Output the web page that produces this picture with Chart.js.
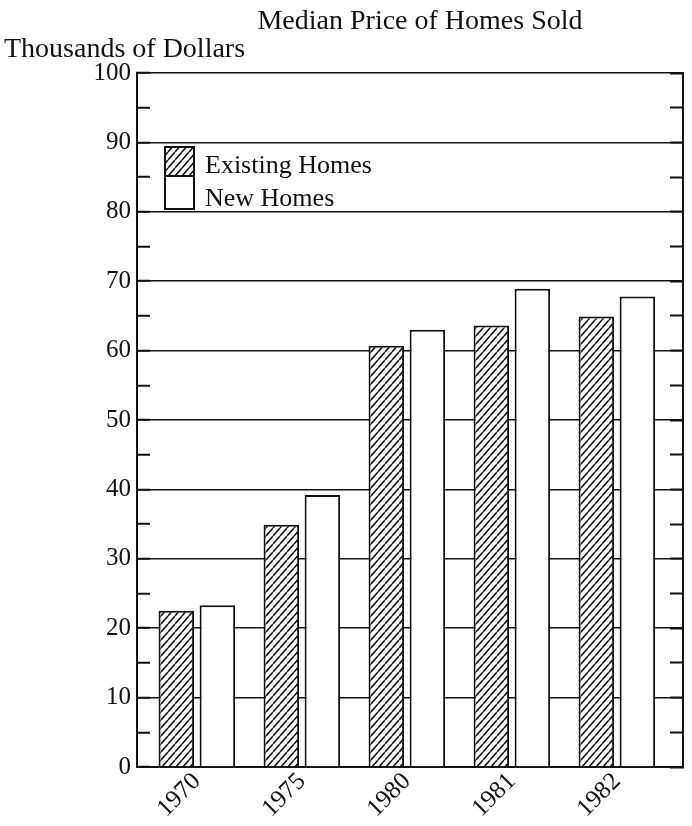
<!DOCTYPE html>
<html>
<head>
<meta charset="utf-8">
<script src="https://cdn.jsdelivr.net/npm/chart.js@4/dist/chart.umd.min.js"></script>
<style>
  html, body { margin: 0; padding: 0; background: #fff; }
  #chart { display: block; }
</style>
</head>
<body>
<canvas id="chart" width="692" height="826"></canvas>
<script>
const YEARS = ['1970', '1975', '1980', '1981', '1982'];
const EXISTING_HOMES = [22.5, 34.9, 60.7, 63.6, 64.9];
const NEW_HOMES = [23.3, 39.2, 63.0, 68.9, 67.8];
const Y_MIN = 0;
const Y_MAX = 100;
const Y_STEP = 5;
const Y_LABEL_EVERY = 10;
const TITLE = 'Median Price of Homes Sold';
const Y_CAPTION = 'Thousands of Dollars';

const INK = '#111';
const SERIF = '"Liberation Serif", "DejaVu Serif", serif';
// space before the first and after the last year, in category widths
const X_LEAD = 0.57;
const X_TRAIL = 0.63;

const canvas = document.getElementById('chart');

function hatchPattern() {
  const w = 7, h = 8;
  const c = document.createElement('canvas');
  c.width = w;
  c.height = h;
  const g = c.getContext('2d');
  g.fillStyle = '#fff';
  g.fillRect(0, 0, w, h);
  g.strokeStyle = INK;
  g.lineWidth = 1.5;
  g.beginPath();
  for (let i = -1; i <= 1; i++) {
    g.moveTo(i * w, h);
    g.lineTo((i + 1) * w, 0);
  }
  g.stroke();
  return canvas.getContext('2d').createPattern(c, 'repeat');
}

const captions = {
  id: 'captions',
  afterDraw(chart) {
    const { ctx } = chart;
    ctx.save();
    ctx.fillStyle = INK;
    ctx.textBaseline = 'alphabetic';
    ctx.font = `28px ${SERIF}`;
    ctx.textAlign = 'center';
    ctx.fillText(TITLE, 420, 29);
    ctx.textAlign = 'left';
    ctx.fillText(Y_CAPTION, 4, 57);
    ctx.restore();
  }
};

// legend sits inside the plot, two stacked swatches
const insetLegend = {
  id: 'insetLegend',
  afterDatasetsDraw(chart) {
    const { ctx } = chart;
    const x = 165, w = 29;
    const rows = [{ y: 147, h: 29, base: 173 }, { y: 176, h: 33, base: 206 }];
    ctx.save();
    ctx.font = `26px ${SERIF}`;
    ctx.textBaseline = 'alphabetic';
    ctx.textAlign = 'left';
    chart.data.datasets.forEach((ds, i) => {
      const r = rows[i];
      ctx.fillStyle = ds.backgroundColor;
      ctx.fillRect(x, r.y, w, r.h);
      ctx.lineWidth = 2;
      ctx.strokeStyle = INK;
      ctx.strokeRect(x, r.y, w, r.h);
      ctx.fillStyle = INK;
      ctx.fillText(ds.label, x + 40, r.base);
    });
    ctx.restore();
  }
};

const tickFont = { family: SERIF, size: 25 };

new Chart(canvas, {
  type: 'bar',
  data: {
    labels: YEARS,
    datasets: [
      {
        label: 'Existing Homes',
        data: EXISTING_HOMES,
        backgroundColor: hatchPattern(),
        borderColor: INK,
        borderWidth: 2
      },
      {
        label: 'New Homes',
        data: NEW_HOMES,
        backgroundColor: '#fff',
        borderColor: INK,
        borderWidth: 2
      }
    ]
  },
  options: {
    responsive: false,
    devicePixelRatio: 1,
    animation: false,
    events: [],
    layout: { padding: { left: 93, right: 9, top: 73, bottom: 0 } },
    datasets: { bar: { categoryPercentage: 0.782, barPercentage: 0.865 } },
    plugins: {
      legend: { display: false },
      title: { display: false },
      tooltip: { enabled: false }
    },
    scales: {
      x: {
        offset: false,
        grid: { display: false, drawTicks: false },
        border: { color: INK, width: 2 },
        ticks: {
          color: INK,
          font: tickFont,
          minRotation: 45,
          maxRotation: 45,
          autoSkip: false,
          padding: 0
        },
        afterBuildTicks(scale) {
          scale._startValue = -X_LEAD;
          scale._valueRange = YEARS.length - 1 + X_LEAD + X_TRAIL;
        },
        afterFit(scale) { scale.height = 59; }
      },
      y: {
        min: Y_MIN,
        max: Y_MAX,
        ticks: {
          stepSize: Y_STEP,
          color: INK,
          font: tickFont,
          padding: 19,
          callback: (v) => (v % Y_LABEL_EVERY === 0 ? v : '')
        },
        grid: {
          color: (c) => (c.tick && c.tick.value % Y_LABEL_EVERY === 0 ? INK : 'rgba(0,0,0,0)'),
          lineWidth: 1.5,
          tickColor: INK,
          tickLength: -13,
          tickWidth: 2
        },
        border: { color: INK, width: 2 },
        afterFit(scale) { scale.width = 44; }
      },
      y2: {
        position: 'right',
        min: Y_MIN,
        max: Y_MAX,
        ticks: { stepSize: Y_STEP, display: false },
        grid: {
          drawOnChartArea: false,
          tickColor: INK,
          tickLength: -13,
          tickWidth: 2
        },
        border: { color: INK, width: 2 },
        afterFit(scale) { scale.width = 0; }
      }
    }
  },
  plugins: [captions, insetLegend]
});
</script>
</body>
</html>
